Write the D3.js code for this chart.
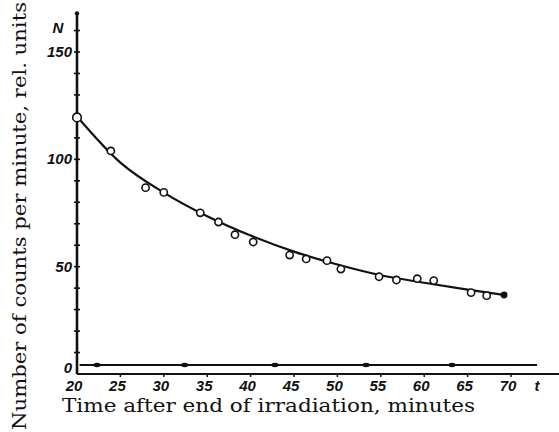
<!DOCTYPE html>
<html>
<head>
<meta charset="utf-8">
<script src="https://cdn.jsdelivr.net/npm/d3@7.9.0/dist/d3.min.js"></script>
<style>
  body { margin: 0; background: #fff; }
  svg { display: block; }
  .tick-label { font-family: 'Liberation Sans', sans-serif; font-style: italic; font-weight: bold; font-size: 15px; fill: #111; }
  .title { font-family: 'DejaVu Serif', serif; font-size: 19px; fill: #111; }
</style>
</head>
<body>
<svg id="chart" width="559" height="432"></svg>
<script>
// measured points (minutes after irradiation, counts per minute)
const times = [20, 23.9, 27.9, 30.0, 34.2, 36.3, 38.2, 40.3, 44.5, 46.4, 48.8, 50.4, 54.8, 56.8, 59.2, 61.1, 65.4, 67.2];
const counts = [119.5, 103.9, 86.8, 84.6, 75.1, 70.8, 64.9, 61.5, 55.4, 53.6, 52.8, 48.9, 45.3, 43.8, 44.4, 43.5, 37.9, 36.5];
const lastPoint = [69.2, 36.8];

// decay curve as drawn
const curveT = [20, 25, 30, 35, 40, 45, 50, 55, 60, 65, 69.2];
const curveN = [120, 98.5, 84.5, 73.5, 64.5, 57, 51, 46, 42.5, 39.3, 36.8];

// background line and its marks
const bgLevel = 4.2;
const bgRange = [20.3, 73];
const bgMarks = [22.3, 32.4, 42.8, 53.3, 63.2];

const xTicks = [20, 25, 30, 35, 40, 45, 50, 55, 60, 65, 70];
const yTicks = [0, 50, 100, 150];

const svg = d3.select('#chart');

const x = d3.scaleLinear().domain([20, 70]).range([77, 511]);
const y = d3.scaleLinear().domain([0, 150]).range([374, 52]);

// y axis line with crossing ticks every 10
svg.append('line')
  .attr('x1', x(20)).attr('x2', x(20))
  .attr('y1', y(0)).attr('y2', y(168))
  .attr('stroke', '#111').attr('stroke-width', 2.6);
svg.append('circle').attr('cx', x(20)).attr('cy', y(168)).attr('r', 2.2).attr('fill', '#111');

d3.range(10, 170, 10).forEach((v) => {
  svg.append('line')
    .attr('x1', x(20) - 3).attr('x2', x(20) + 3)
    .attr('y1', y(v)).attr('y2', y(v))
    .attr('stroke', '#111').attr('stroke-width', 1.6);
});

// x axis line with ticks below
svg.append('line')
  .attr('x1', x(20)).attr('x2', 559)
  .attr('y1', y(0)).attr('y2', y(0))
  .attr('stroke', '#111').attr('stroke-width', 2);
xTicks.slice(1).forEach((v) => {
  svg.append('line')
    .attr('x1', x(v)).attr('x2', x(v))
    .attr('y1', y(0)).attr('y2', y(0) + 3)
    .attr('stroke', '#111').attr('stroke-width', 1.5);
});

// background line
svg.append('line')
  .attr('x1', x(bgRange[0])).attr('x2', x(bgRange[1]))
  .attr('y1', y(bgLevel)).attr('y2', y(bgLevel))
  .attr('stroke', '#111').attr('stroke-width', 2.2);
bgMarks.forEach((t) => {
  svg.append('ellipse')
    .attr('cx', x(t)).attr('cy', y(bgLevel))
    .attr('rx', 3.5).attr('ry', 2.2)
    .attr('fill', '#111');
});

// tick labels
svg.selectAll('.xl').data(xTicks).join('text')
  .attr('class', 'tick-label')
  .attr('x', (d) => x(d) - 3)
  .attr('y', 391)
  .attr('text-anchor', 'middle')
  .text((d) => d);
svg.append('text').attr('class', 'tick-label').attr('x', 537).attr('y', 391).attr('text-anchor', 'middle').text('t');

svg.selectAll('.yl').data(yTicks).join('text')
  .attr('class', 'tick-label')
  .attr('x', 72)
  .attr('y', (d) => y(d) + 5 - (d === 0 ? 6 : 0))
  .attr('text-anchor', 'end')
  .text((d) => d);
svg.append('text').attr('class', 'tick-label').attr('x', 58).attr('y', 33).attr('text-anchor', 'middle').text('N');

// fitted curve
const line = d3.line()
  .x((d) => x(d[0]))
  .y((d) => y(d[1]))
  .curve(d3.curveMonotoneX);
svg.append('path')
  .attr('d', line(d3.zip(curveT, curveN)))
  .attr('fill', 'none')
  .attr('stroke', '#111')
  .attr('stroke-width', 2.2);

// data points
svg.selectAll('.pt').data(d3.zip(times, counts)).join('circle')
  .attr('cx', (d) => x(d[0]))
  .attr('cy', (d) => y(d[1]))
  .attr('r', (d, i) => i === 0 ? 4.3 : 3.6)
  .attr('fill', '#fff')
  .attr('stroke', '#111')
  .attr('stroke-width', 1.6);
svg.append('circle')
  .attr('cx', x(lastPoint[0])).attr('cy', y(lastPoint[1]))
  .attr('r', 3.4).attr('fill', '#111');

// axis titles
svg.append('text')
  .attr('class', 'title')
  .attr('x', 62).attr('y', 412)
  .attr('textLength', 413).attr('lengthAdjust', 'spacingAndGlyphs')
  .text('Time after end of irradiation,  minutes');

svg.append('text')
  .attr('class', 'title')
  .attr('transform', 'translate(26,430) rotate(-90)')
  .attr('textLength', 428).attr('lengthAdjust', 'spacingAndGlyphs')
  .text('Number of counts per minute, rel. units');
</script>
</body>
</html>
